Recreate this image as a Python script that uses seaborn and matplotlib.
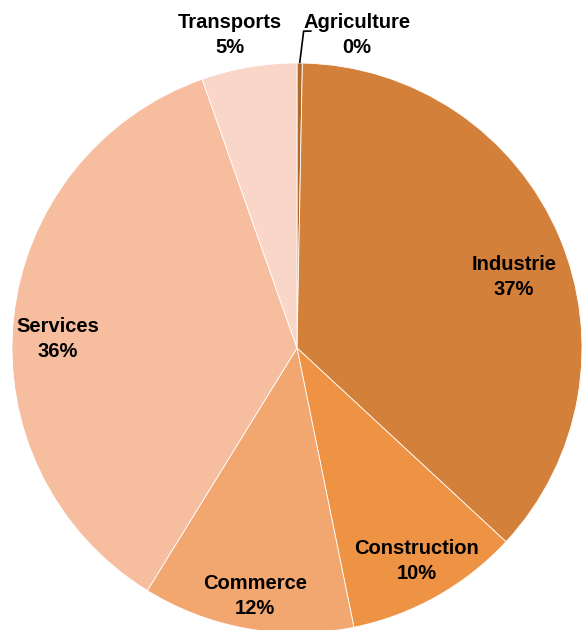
import numpy as np
import seaborn as sns
import matplotlib.pyplot as plt

sns.set_style("white")
plt.rcParams['font.family'] = ['Liberation Sans', 'DejaVu Sans']

# Répartition par secteur (en %), dans l'ordre horaire depuis le haut
secteurs = ['Agriculture', 'Industrie', 'Construction', 'Commerce', 'Services', 'Transports']
parts = [0.3, 36.6, 9.9, 12.0, 35.8, 5.4]
couleurs = ['#B06A2C', '#D3803A', '#EE9244', '#F2A670', '#F6BD9F', '#F9D6C7']

fig = plt.figure(figsize=(5.82, 6.30), dpi=100)
ax = fig.add_axes([0, 0, 1, 1])

wedges, _ = ax.pie(parts, colors=couleurs, startangle=90, counterclock=False,
                   wedgeprops=dict(edgecolor='white', linewidth=0.6))

# placement des étiquettes : distance au centre et décalage d'angle (degrés)
dist = [None, 0.80, 0.856, 0.882, 0.84, 1.123]
decal = [0, -4.9, 0, 0.5, 3.9, 2.4]
style = dict(ha='center', va='center', fontsize=14.5, fontweight='bold',
             linespacing=1.4, color='black')

for w, nom, p, d, da in zip(wedges, secteurs, parts, dist, decal):
    ang = np.deg2rad((w.theta1 + w.theta2) / 2 + da)
    txt = f"{nom}\n{p:.0f}%"
    if d is None:
        # petite part : étiquette à l'extérieur avec trait de rappel
        x0, y0 = np.cos(ang), np.sin(ang)
        ax.plot([x0, x0 + 0.014, x0 + 0.042], [y0, y0 + 0.112, y0 + 0.112],
                color='black', lw=1.2, solid_capstyle='butt')
        ax.text(x0 + 0.2, y0 + 0.1, txt, **style)
    else:
        ax.text(d * np.cos(ang), d * np.sin(ang), txt, **style)

ax.set_xlim(-297 / 285, 285 / 285)
ax.set_ylim(-282 / 285, 348 / 285)
ax.set_aspect('auto')
ax.axis('off')

fig.savefig('out.png', dpi=100)
